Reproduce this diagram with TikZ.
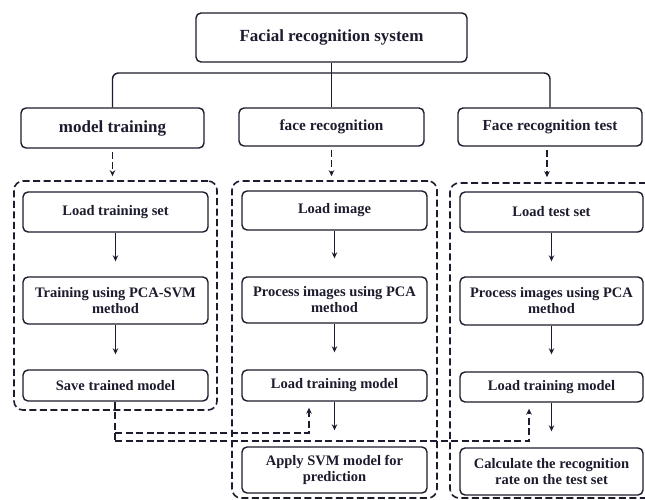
\documentclass[tikz,border=0pt]{standalone}
\usepackage{fontspec}
\setmainfont{Liberation Serif}
\usetikzlibrary{arrows.meta,calc}
\definecolor{ink}{RGB}{28,28,46}
\begin{document}
\begin{tikzpicture}[x=1pt,y=-1pt,
  box/.style={draw=ink, line width=1.4pt, rounded corners=5pt, fill=white, text=ink,
    font=\bfseries\fontsize{14.5}{16}\selectfont, align=center, inner sep=0pt},
  big/.style={font=\bfseries\fontsize{17}{19}\selectfont},
  mid/.style={font=\bfseries\fontsize{15.3}{17}\selectfont},
  cont/.style={draw=ink, line width=1.6pt, dash pattern=on 7pt off 3.5pt, rounded corners=9pt, inner sep=0pt},
  link/.style={draw=ink, line width=1.4pt},
  arr/.style={draw=ink, line width=1.5pt, -{Stealth[length=6pt,width=5.5pt]}},
  dline/.style={draw=ink, line width=1.6pt, dash pattern=on 7pt off 3.5pt},
  darr/.style={dline, -{Stealth[length=6pt,width=5.5pt]}}
]
\useasboundingbox[fill=white] (0,0) rectangle (645,500);

% dashed containers
\node[cont, minimum width=203pt, minimum height=229pt] (lc) at (115.5,295.5) {};
\node[cont, minimum width=205pt, minimum height=317pt] (mc) at (334.5,339.5) {};
\node[cont, minimum width=205pt, minimum height=315pt] (rc) at (552.5,340.5) {};

% top levels
\node[box, big, minimum width=271pt, minimum height=49pt] (top) at (331.5,37.5) {Facial recognition system};
\node[box, big, minimum width=183pt, minimum height=40pt] (mt) at (112.5,128) {model training};
\node[box, mid, minimum width=185pt, minimum height=38pt] (fr) at (331.5,127) {face recognition};
\node[box, mid, minimum width=184pt, minimum height=38pt] (frt) at (550,127) {Face recognition test};

\coordinate (bus) at (331.5,73);
\draw[link] (top.south) -- (fr.north);
\draw[link, rounded corners=6pt] (mt.north) |- (bus) -| (frt.north);

% left column
\node[box, minimum width=185pt, minimum height=40pt] (lts) at (115.5,212) {Load training set};
\node[box, minimum width=185pt, minimum height=47pt] (tps) at (115.5,300.5) {Training using PCA-SVM\\method};
\node[box, minimum width=185pt, minimum height=31pt] (stm) at (115.5,385.5) {Save trained model};

% middle column
\node[box, minimum width=185pt, minimum height=39pt] (li) at (334.5,210.5) {Load image};
\node[box, minimum width=185pt, minimum height=46pt] (pim) at (334.5,300) {Process images using PCA\\method};
\node[box, minimum width=185pt, minimum height=31pt] (ltm) at (334.5,385.5) {Load training model};
\node[box, minimum width=185pt, minimum height=46pt] (asvm) at (334.5,470) {Apply SVM model for\\prediction};

% right column
\node[box, minimum width=183pt, minimum height=40pt] (lts2) at (551.5,212) {Load test set};
\node[box, minimum width=183pt, minimum height=48pt] (pim2) at (551.5,301) {Process images using PCA\\method};
\node[box, minimum width=183pt, minimum height=30pt] (ltm2) at (551.5,387) {Load training model};
\node[box, minimum width=183pt, minimum height=47pt] (calc) at (551.5,471.5) {Calculate the recognition\\rate on the test set};

% dashed arrows into containers
\draw[darr, shorten <=3pt, shorten >=4pt] (mt.south) -- (mt.south |- lc.north);
\draw[darr, shorten <=3pt, shorten >=4pt] (fr.south) -- (fr.south |- mc.north);
\draw[darr, shorten <=3pt, shorten >=5pt] ([xshift=-3pt]frt.south) -- ([xshift=-3pt]frt.south |- rc.north);

% solid arrows
\draw[arr, shorten >=15pt] (lts) -- (tps);
\draw[arr, shorten >=15pt] (tps) -- (stm);
\draw[arr, shorten >=18pt] (li) -- (pim);
\draw[arr, shorten >=17pt] (pim) -- (ltm);
\draw[arr, shorten >=16pt] (ltm) -- (asvm);
\draw[arr, shorten >=15pt] (lts2) -- (pim2);
\draw[arr, shorten >=17pt] (pim2) -- (ltm2);
\draw[arr, shorten >=16pt] (ltm2.south) -- (calc.north);

% feedback dashed lines
\coordinate (j1) at (115,433);
\coordinate (j2) at (115,441);
\draw[dline] ([xshift=-0.5pt]stm.south) -- (j2);
\draw[darr, shorten >=6pt] (j1) -| ([xshift=-25.5pt]ltm.south);
\draw[darr, shorten >=6pt] (j2) -| ([xshift=-22.5pt]ltm2.south);
\end{tikzpicture}
\end{document}
